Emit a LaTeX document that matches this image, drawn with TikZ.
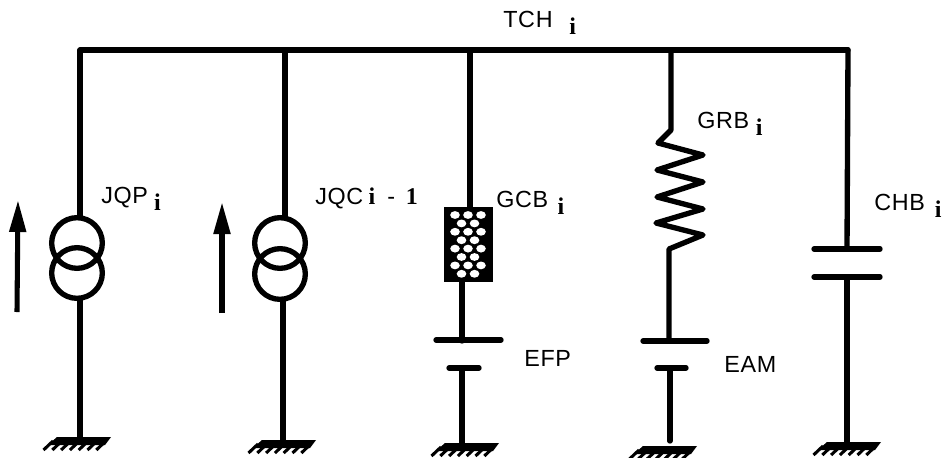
\documentclass[tikz,border=0pt]{standalone}
\usepackage{fontspec}
\setmainfont{Liberation Sans}[LetterSpace=3]
\newfontfamily\subfont{Liberation Serif Bold}
\usetikzlibrary{arrows.meta}
\newcommand{\mono}[1]{{\subfont\fontsize{18pt}{18pt}\selectfont #1}}
\newcommand{\lowi}[2]{#1\kern#2pt\raisebox{-5.3pt}{\mono{i}}}
\newcommand{\gnd}[3]{%
  \fill (#1+15,#2) -- (#1+69,#2) -- (#1+63,#2+8) -- (#1+6,#2+8) -- cycle;
  \foreach \k in {0,...,6} \draw[hatchline] (#1+11+\k*8.8,#2+4) -- (#1+1.5+\k*8.8,#2+13);
  \coordinate (#3) at (#1+38,#2);
}
\newcommand{\cross}[3]{%
  \node[blockbox] (#1) at (#2,#3) {};
  \foreach \r in {0,2,4,6} \foreach \c in {-13,0,13}
    \fill[white] (#2+\c,#3-29.5+\r*8.4) ellipse[x radius=4.8,y radius=3.9];
  \foreach \r in {1,3,5,7} \foreach \c in {-6.5,6.5}
    \fill[white] (#2+\c,#3-29.5+\r*8.4) ellipse[x radius=4.8,y radius=3.9];
}
\tikzset{
  wire/.style={line width=4pt,line cap=round,line join=round},
  src/.style={circle,draw,line width=4pt,minimum size=38pt,inner sep=0pt},
  blockbox/.style={rectangle,fill=black,minimum width=36.75pt,minimum height=56.25pt,inner sep=0pt},
  hatchline/.style={line width=2.3pt},
  arrowline/.style={line width=3.8pt,-{Triangle[length=24pt,width=12pt]}},
  lbl/.style={anchor=base west,inner sep=0pt,font=\fontsize{17.5pt}{19pt}\selectfont}
}
\begin{document}
\begin{tikzpicture}[x=0.75pt,y=-0.75pt]
\useasboundingbox (0,0) rectangle (944,457);
% bus
\coordinate (b1) at (80,50);
\coordinate (b2) at (285,50);
\coordinate (b3) at (470,50);
\coordinate (b4) at (671,50);
\coordinate (b5) at (848,50);
\draw[wire] (b1) -- (b5);
% grounds
\gnd{42}{437}{g1}
\gnd{247}{440}{g2}
\gnd{430}{443}{g3}
\gnd{628}{446}{g4}
\gnd{812}{442}{g5}
% sources
\node[src] (s1a) at (77,243) {};
\node[src] (s1b) at (77,273) {};
\node[src] (s2a) at (280,243) {};
\node[src] (s2b) at (280,274) {};
\draw[wire] (b1) -- (80,216);
\draw[wire] (80,300) -- (80,437);
\draw[wire] (b2) -- (285,216);
\draw[wire] (283,301) -- (283,440);
% arrows
\coordinate (a1s) at (17,312); \coordinate (a1e) at (18,200);
\coordinate (a2s) at (222,313); \coordinate (a2e) at (222,202);
\draw[arrowline] (a1s) -- (a1e);
\draw[arrowline] (a2s) -- (a2e);
% GCB
\cross{gcb}{468}{244.5}
\draw[wire] (b3) -- (gcb.north -| b3);
\coordinate (p3a) at (462,341);
\draw[wire] (gcb.south -| p3a) -- (p3a);
\coordinate (p3l) at (436,340); \coordinate (p3r) at (501,340);
\draw[wire] (p3l) -- (p3r);
\coordinate (p3m) at (462,368);
\draw[wire] (449,368) -- (479,368);
\draw[wire] (p3m) -- (462,443);
% GRB
\draw[wire] (b4) -- (671,130) -- (658,143) -- (703,155) -- (657,170) -- (703,182) -- (657,197) -- (703,209) -- (656,223) -- (703,235) -- (669,249) -- (669,341);
\draw[wire] (643,341) -- (707,341);
\draw[wire] (657,368) -- (686,368);
\draw[wire] (670,368) -- (670,441);
% CHB
\draw[wire] (b5) -- (847,249);
\draw[wire] (814,249) -- (880,249);
\draw[wire] (814,277) -- (880,277);
\draw[wire] (847,277) -- (847,442);
% labels
\node[lbl] (tch) at (503,27) {\lowi{TCH}{12.5}};
\node[lbl] (jqp) at (101,203) {\lowi{JQP}{4.5}};
\node[lbl] (jqc) at (315,204) {JQC\kern4pt\mono{i}\kern9pt-\kern8pt\mono{1}};
\node[lbl] (gcbl) at (496,207) {\lowi{GCB}{7}};
\node[lbl] (efp) at (524,366) {EFP};
\node[lbl] (eam) at (724,372) {EAM};
\node[lbl] (grb) at (697,128) {\lowi{GRB}{5}};
\node[lbl] (chb) at (874,210) {\lowi{CHB}{7.5}};
\end{tikzpicture}
\end{document}
